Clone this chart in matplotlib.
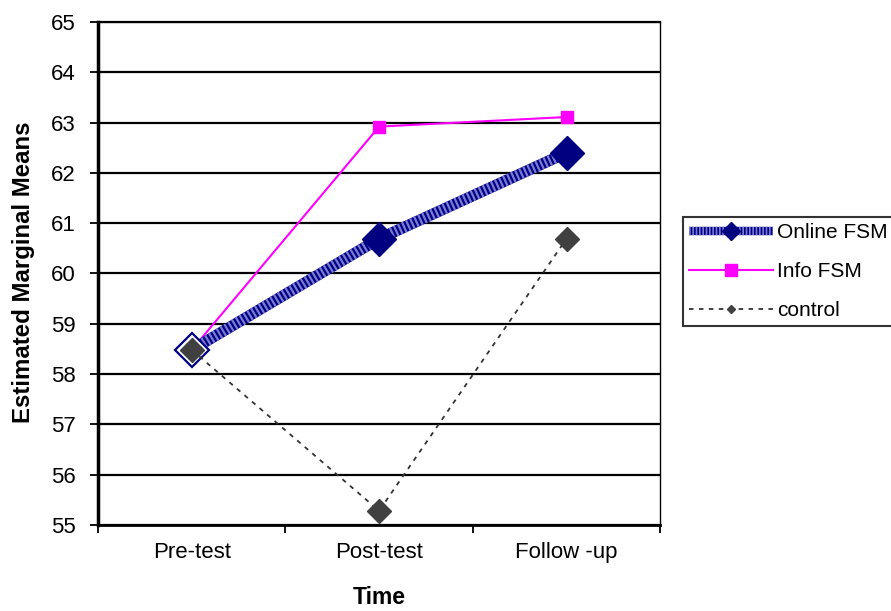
import matplotlib
matplotlib.use("Agg")
import matplotlib.pyplot as plt
from matplotlib.ticker import FixedLocator
from matplotlib.lines import Line2D
from matplotlib.legend_handler import HandlerTuple

plt.rcParams['font.family'] = ['Liberation Sans', 'DejaVu Sans']

categories = ["Pre-test", "Post-test", "Follow -up"]
online_fsm = [58.48, 60.69, 62.4]
info_fsm = [58.48, 62.92, 63.11]
control = [58.48, 55.28, 60.69]
yticks = list(range(55, 66))

fig = plt.figure(figsize=(8.91, 6.11), dpi=100)
ax = fig.add_axes([0.110, 0.141, 0.631, 0.823])

x = list(range(len(categories)))

for yv in yticks:
    ax.axhline(yv, color='black', lw=1.6, zorder=1)

NAVY = '#000080'
STRIPE = '#7a7ad6'
# Online FSM (hatched thick line)
ax.plot(x, online_fsm, color=NAVY, lw=8, solid_capstyle='butt', zorder=3)
ax.plot(x, online_fsm, color=STRIPE, lw=8, ls=(0, (0.2, 0.2)), dash_capstyle='butt', zorder=3)
ax.plot(x[1:], online_fsm[1:], ls='none', marker='D', markersize=17.5,
        markerfacecolor=NAVY, markeredgecolor=NAVY, zorder=4)
ax.plot(x[:1], online_fsm[:1], ls='none', marker='D', markersize=17,
        markerfacecolor='white', markeredgecolor=NAVY, markeredgewidth=1.6, zorder=4)
# Info FSM
ax.plot(x, info_fsm, color='#FF00FF', lw=1.5, zorder=2,
        marker='s', markersize=8.5, markerfacecolor='#FF00FF', markeredgecolor='#FF00FF')
# control
ax.plot(x, control, color='#333333', lw=1.3, ls=(0, (2.5, 3)), zorder=5,
        marker='D', markersize=12, markerfacecolor='#404040', markeredgecolor='#404040')

ax.set_xlim(-0.5, 2.5)
ax.set_ylim(55, 65)
ax.set_yticks(yticks)
ax.set_yticklabels([str(v) for v in yticks], fontsize=16)
ax.set_xticks(x)
ax.set_xticklabels(categories, fontsize=16)
ax.tick_params(axis='x', which='major', length=0, pad=12)
ax.xaxis.set_minor_locator(FixedLocator([-0.5, 0.5, 1.5, 2.5]))
ax.tick_params(axis='x', which='minor', length=6, width=1.3, direction='out')
ax.tick_params(axis='y', length=6, width=1.3, direction='out', pad=10)

ax.spines['left'].set_linewidth(2.5)
ax.spines['bottom'].set_linewidth(2)
ax.spines['right'].set_linewidth(1)
ax.spines['top'].set_linewidth(1.6)

fig.text((98 + 660) / 2 / 891, 1 - 597 / 611, 'Time', fontsize=16.5, fontweight='bold',
         ha='center', va='center')
fig.text(24 / 891, 1 - 272 / 611, 'Estimated Marginal Means', fontsize=17.3,
         fontweight='bold', ha='center', va='center', rotation=90)

h_online = (Line2D([], [], color=NAVY, lw=6, solid_capstyle='butt'),
            Line2D([], [], color=STRIPE, lw=6, ls=(0, (0.2, 0.2)), dash_capstyle='butt',
                   marker='D', markersize=9, markerfacecolor=NAVY, markeredgecolor=NAVY))
h_info = Line2D([], [], color='#FF00FF', lw=1.5, marker='s', markersize=8,
                markerfacecolor='#FF00FF', markeredgecolor='#FF00FF')
h_ctrl = Line2D([], [], color='#333333', lw=1.3, ls=(0, (2.5, 3)), marker='D', markersize=4.5,
                markerfacecolor='#404040', markeredgecolor='#404040')
leg = fig.legend([h_online, h_info, h_ctrl], ['Online FSM', 'Info FSM', 'control'],
                 handler_map={tuple: HandlerTuple(ndivide=1)},
                 loc='upper left', bbox_to_anchor=(683/891, 1 - 217/611),
                 fontsize=15, frameon=True, fancybox=False, handlelength=4.0,
                 borderpad=0.3, labelspacing=0.95, handletextpad=0.22, borderaxespad=0)
leg.get_frame().set_edgecolor('black')
leg.get_frame().set_linewidth(1.5)

fig.savefig('out.png', dpi=100)
